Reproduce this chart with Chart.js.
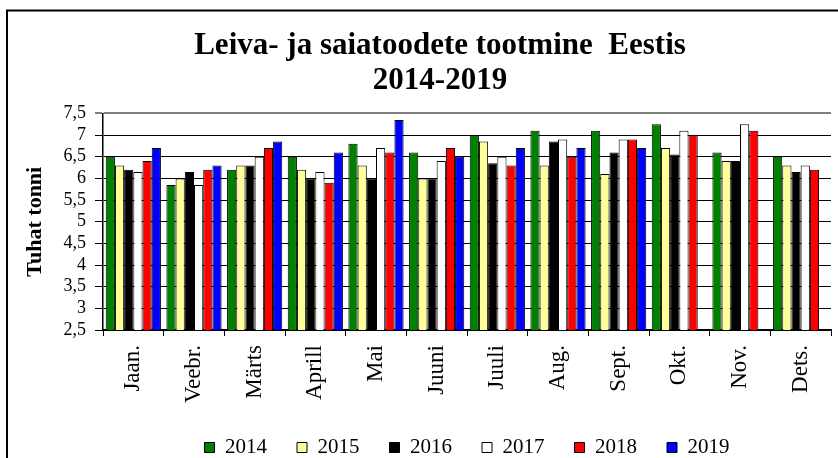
<!DOCTYPE html>
<html>
<head>
<meta charset="utf-8">
<script src="https://cdn.jsdelivr.net/npm/chart.js@4"></script>
<style>
  html, body { margin: 0; padding: 0; background: #fff; }
  #wrap { width: 838px; height: 458px; position: relative; }
</style>
</head>
<body>
<div id="wrap"><canvas id="chart"></canvas></div>
<script>
// ===== データ =====
var months = ["Jaan.", "Veebr.", "Märts", "Aprill", "Mai", "Juuni", "Juuli", "Aug.", "Sept.", "Okt.", "Nov.", "Dets."];
var years = ["2014", "2015", "2016", "2017", "2018", "2019"];
var y2014 = [6.5, 5.85, 6.2, 6.5, 6.8, 6.6, 7.0, 7.1, 7.1, 7.25, 6.6, 6.5];
var y2015 = [6.3, 6.0, 6.3, 6.2, 6.3, 6.0, 6.85, 6.3, 6.1, 6.7, 6.4, 6.3];
var y2016 = [6.2, 6.15, 6.3, 6.0, 6.0, 6.0, 6.35, 6.85, 6.6, 6.55, 6.4, 6.15];
var y2017 = [6.15, 5.85, 6.5, 6.15, 6.7, 6.4, 6.5, 6.9, 6.9, 7.1, 7.25, 6.3];
var y2018 = [6.4, 6.2, 6.7, 5.9, 6.6, 6.7, 6.3, 6.5, 6.9, 7.0, 7.1, 6.2];
var y2019 = [6.7, 6.3, 6.85, 6.6, 7.35, 6.5, 6.7, 6.7, 6.7, null, null, null];
var yMin = 2.5, yMax = 7.5, yStep = 0.5;

var series = [y2014, y2015, y2016, y2017, y2018, y2019];
var colors = ["#008000", "#ffff99", "#000000", "#ffffff", "#ff0000", "#0000ff"];
var serif = "'Liberation Serif', 'Times New Roman', serif";

// 外枠
var framePlugin = {
  id: "frame",
  beforeDraw: function (chart) {
    var c = chart.ctx;
    c.save();
    c.fillStyle = "#fff";
    c.fillRect(0, 0, chart.width, chart.height);
    c.strokeStyle = "#000";
    c.lineWidth = 2;
    c.strokeRect(7, 10.5, 900, 500);
    c.restore();
  }
};

new Chart(document.getElementById("chart"), {
  type: "bar",
  data: {
    labels: months,
    datasets: series.map(function (d, i) {
      return {
        label: years[i],
        data: d,
        backgroundColor: colors[i],
        borderColor: "#000",
        borderWidth: 1,
        categoryPercentage: 0.91,
        barPercentage: 1.0
      };
    })
  },
  options: {
    responsive: true, maintainAspectRatio: false, animation: false,
    layout: { padding: { top: 10, left: 49, right: 7, bottom: -10 } },
    plugins: {
      title: {
        display: true,
        text: ["Leiva- ja saiatoodete tootmine  Eestis", "2014-2019"],
        color: "#000",
        font: { family: serif, size: 31, weight: "bold", lineHeight: 1.12 },
        padding: { top: 19, bottom: 15 }
      },
      legend: {
        position: "bottom",
        fullSize: false,
        labels: {
          color: "#000",
          font: { family: serif, size: 21 },
          boxWidth: 10, boxHeight: 10, padding: 30
        }
      },
      tooltip: { enabled: false }
    },
    scales: {
      x: {
        grid: { drawOnChartArea: false, drawTicks: true, tickLength: 6, color: "#000", offset: true },
        border: { color: "#000", width: 1.5 },
        ticks: {
          color: "#000", font: { family: serif, size: 23 },
          minRotation: 90, maxRotation: 90, padding: 9, autoSkip: false
        },
        afterFit: function (s) { s.height = 77; }
      },
      y: {
        min: yMin, max: yMax,
        ticks: {
          stepSize: yStep, color: "#000", padding: 9, autoSkip: false,
          font: { family: serif, size: 18 },
          callback: function (v) { return String(v).replace(".", ","); }
        },
        grid: {
          tickLength: 8,
          color: function (ctx) { return ctx.tick && ctx.tick.value === yMax ? "#808080" : "#000"; },
          lineWidth: function (ctx) { return ctx.tick && ctx.tick.value === yMax ? 2 : 1; }
        },
        border: { color: "#000", width: 1.5 },
        title: {
          display: true, text: "Tuhat tonni", color: "#000",
          font: { family: serif, size: 22, weight: "bold" },
          padding: { top: -27, bottom: 0 }
        },
        afterFit: function (s) { s.width = 54; }
      }
    }
  },
  plugins: [framePlugin]
});
</script>
</body>
</html>
